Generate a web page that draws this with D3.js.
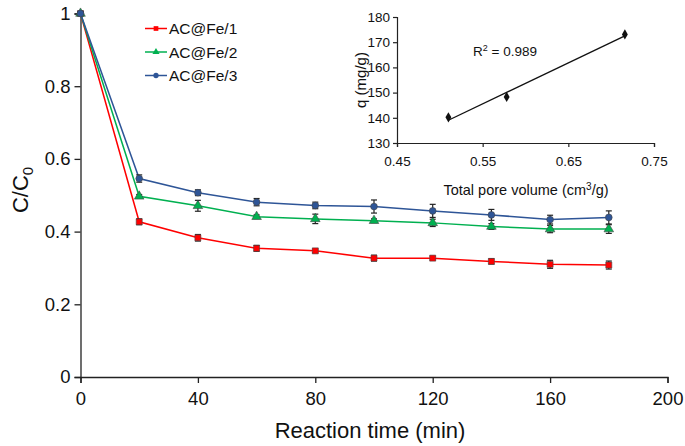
<!DOCTYPE html>
<html><head><meta charset="utf-8">
<script src="https://cdn.jsdelivr.net/npm/d3@7/dist/d3.min.js"></script>
<style>body{margin:0;background:#fff}svg{display:block;font-family:"Liberation Sans",Arial,sans-serif}</style>
</head><body><svg id="c" width="685" height="446"></svg>
<script>
const times = [0,20,40,60,80,100,120,140,160,180];
const fe1 = [1,0.427,0.383,0.354,0.347,0.327,0.327,0.318,0.310,0.308];
const fe1Err = [0.004,0.008,0.009,0.008,0.005,0.008,0.005,0.007,0.011,0.011];
const fe2 = [1,0.497,0.471,0.441,0.435,0.430,0.424,0.414,0.407,0.407];
const fe2Err = [0.004,0.005,0.015,0.005,0.013,0.005,0.010,0.008,0.010,0.012];
const fe3 = [1,0.546,0.507,0.481,0.472,0.469,0.457,0.446,0.433,0.439];
const fe3Err = [0.004,0.010,0.008,0.010,0.009,0.018,0.018,0.015,0.012,0.018];
const seriesNames = ["AC@Fe/1","AC@Fe/2","AC@Fe/3"];
const xTicks = [0,40,80,120,160,200];
const yTicks = [0,0.2,0.4,0.6,0.8,1];
const poreVol = [0.510,0.578,0.716];
const qVals = [140.2,148.3,173.1];
const insetXTicks = [0.45,0.55,0.65,0.75];
const insetYTicks = [130,140,150,160,170,180];

const svg = d3.select("#c");
const x = d3.scaleLinear().domain([0,200]).range([80.5,667.5]);
const y = d3.scaleLinear().domain([0,1]).range([377,13.5]);

const series = [
  {name:seriesNames[0], v:fe1, e:fe1Err, color:"#ff0000", shape:d3.symbolSquare},
  {name:seriesNames[1], v:fe2, e:fe2Err, color:"#00b050", shape:d3.symbolTriangle},
  {name:seriesNames[2], v:fe3, e:fe3Err, color:"#2e5597", shape:d3.symbolCircle}
];

// axes
const gx = svg.append("g").attr("transform","translate(0,377)")
  .call(d3.axisBottom(x).tickValues(xTicks).tickFormat(d3.format("d")).tickSizeOuter(0).tickSize(6).tickPadding(9));
const gy = svg.append("g").attr("transform","translate(80.5,0)")
  .call(d3.axisLeft(y).tickValues(yTicks).tickFormat(d=>d===0||d===1?d3.format("d")(d):d3.format(".1f")(d)).tickSizeOuter(0).tickSize(6).tickPadding(4));
[gx,gy].forEach(g=>{
  g.select(".domain").attr("stroke","#222").attr("stroke-width",1.3);
  g.selectAll(".tick line").attr("stroke","#222").attr("stroke-width",1.3);
  g.selectAll(".tick text").attr("font-size",18.5).attr("fill","#111").attr("font-family","Liberation Sans, Arial, sans-serif");
});

svg.append("text").attr("x",370).attr("y",438).attr("text-anchor","middle")
  .attr("font-size",22).attr("fill","#111").text("Reaction time (min)");
const yl = svg.append("text").attr("transform","translate(28,190) rotate(-90)").attr("text-anchor","middle")
  .attr("font-size",22).attr("fill","#111");
yl.append("tspan").text("C/C");
yl.append("tspan").attr("font-size",15).attr("dy",5).text("0");

// series lines, error bars, markers
series.forEach(s=>{
  const pts = times.map((t,i)=>({t, v:s.v[i], e:s.e[i]}));
  svg.append("path").datum(pts)
    .attr("d", d3.line().x(d=>x(d.t)).y(d=>y(d.v)))
    .attr("fill","none").attr("stroke",s.color).attr("stroke-width",1.5);
});
series.forEach(s=>{
  const pts = times.map((t,i)=>({t, v:s.v[i], e:s.e[i]}));
  const g = svg.append("g");
  pts.forEach(d=>{
    const xx = x(d.t), y1 = y(d.v+d.e), y2 = y(d.v-d.e);
    g.append("line").attr("x1",xx).attr("x2",xx).attr("y1",y1).attr("y2",y2).attr("stroke","#222").attr("stroke-width",1.2);
    g.append("line").attr("x1",xx-3).attr("x2",xx+3).attr("y1",y1).attr("y2",y1).attr("stroke","#222").attr("stroke-width",1.2);
    g.append("line").attr("x1",xx-3).attr("x2",xx+3).attr("y1",y2).attr("y2",y2).attr("stroke","#222").attr("stroke-width",1.2);
  });
  g.selectAll("path.m").data(pts).enter().append("path")
    .attr("transform",d=>`translate(${x(d.t)},${y(d.v)})`)
    .attr("d", d3.symbol().type(s.shape).size(s.shape===d3.symbolTriangle?40:36))
    .attr("fill",s.color).attr("stroke","#444").attr("stroke-width",0.6);
});

// legend
series.forEach((s,i)=>{
  const ly = [28.5,52,75.5][i];
  svg.append("line").attr("x1",145).attr("x2",167).attr("y1",ly).attr("y2",ly).attr("stroke",s.color).attr("stroke-width",1.5);
  svg.append("path").attr("transform",`translate(156,${ly})`)
    .attr("d", d3.symbol().type(s.shape).size(22)).attr("fill",s.color);
  svg.append("text").attr("x",169).attr("y",ly+5.5).attr("font-size",15.5).attr("fill","#111").text(s.name);
});

// inset
const ix = d3.scaleLinear().domain([0.45,0.75]).range([397,654]);
const iy = d3.scaleLinear().domain([130,180]).range([143,17]);
const gix = svg.append("g").attr("transform","translate(0,143)")
  .call(d3.axisBottom(ix).tickValues(insetXTicks).tickFormat(d3.format(".2f")).tickSizeOuter(0).tickSize(4).tickPadding(9));
const giy = svg.append("g").attr("transform","translate(397,0)")
  .call(d3.axisLeft(iy).tickValues(insetYTicks).tickFormat(d3.format("d")).tickSizeOuter(0).tickSize(4).tickPadding(3));
[gix,giy].forEach(g=>{
  g.select(".domain").attr("stroke","#222").attr("stroke-width",1.2);
  g.selectAll(".tick line").attr("stroke","#222").attr("stroke-width",1.2);
  g.selectAll(".tick text").attr("font-size",13.5).attr("fill","#111").attr("font-family","Liberation Sans, Arial, sans-serif");
});
const ixl = svg.append("text").attr("x",526).attr("y",195).attr("text-anchor","middle").attr("font-size",14.5).attr("fill","#111");
ixl.append("tspan").text("Total pore volume (cm");
ixl.append("tspan").attr("font-size",10).attr("dy",-5).text("3");
ixl.append("tspan").attr("dy",5).text("/g)");
svg.append("text").attr("transform","translate(366,80) rotate(-90)").attr("text-anchor","middle")
  .attr("font-size",15).attr("fill","#111").text("q (mg/g)");

// regression line from the points
const mx = d3.mean(poreVol), my = d3.mean(qVals);
const slope = d3.sum(poreVol.map((v,i)=>(v-mx)*(qVals[i]-my)))/d3.sum(poreVol.map(v=>(v-mx)**2));
const icpt = my - slope*mx;
const x0 = d3.min(poreVol), x1 = d3.max(poreVol);
svg.append("line").attr("x1",ix(x0)).attr("y1",iy(icpt+slope*x0)).attr("x2",ix(x1)).attr("y2",iy(icpt+slope*x1))
  .attr("stroke","#111").attr("stroke-width",1.3);
svg.selectAll("path.d").data(poreVol).enter().append("path")
  .attr("transform",(d,i)=>`translate(${ix(d)},${iy(qVals[i])})`)
  .attr("d", d3.symbol().type(d3.symbolDiamond).size(30)).attr("fill","#111");
const r2 = svg.append("text").attr("x",473).attr("y",56).attr("font-size",13.5).attr("fill","#111");
r2.append("tspan").text("R");
r2.append("tspan").attr("font-size",9).attr("dy",-5).text("2");
r2.append("tspan").attr("dy",5).text(" = 0.989");
</script></body></html>
